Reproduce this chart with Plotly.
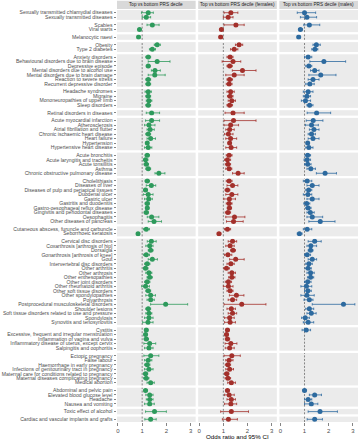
import plotly.graph_objects as go
from plotly.subplots import make_subplots

# ---------------- data ----------------
group_sizes = [2, 2, 1, 2, 7, 4, 1, 7, 5, 10, 2, 19, 5, 7, 4, 1, 1]

labels = [
    "Sexually transmitted chlamydial diseases", "Sexually transmitted diseases",
    "Scabies", "Viral warts",
    "Melanocytic naevi",
    "Obesity", "Type 2 diabetes",
    "Anxiety disorders", "Behavioural disorders due to brain disease", "Depressive episode",
    "Mental disorders due to alcohol use", "Mental disorders due to brain damage",
    "Reaction to severe stress", "Recurrent depressive disorder",
    "Headache syndromes", "Migraine", "Mononeuropathies of upper limb", "Sleep disorders",
    "Retinal disorders in diseases",
    "Acute myocardial infarction", "Atherosclerosis", "Atrial fibrillation and flutter",
    "Chronic ischaemic heart disease", "Heart failure", "Hypertension", "Hypertensive heart disease",
    "Acute bronchitis", "Acute laryngitis and tracheitis", "Acute tonsillitis", "Asthma",
    "Chronic obstructive pulmonary disease",
    "Cholelithiasis", "Diseases of liver", "Diseases of pulp and periapical tissues", "Duodenal ulcer",
    "Gastric ulcer", "Gastritis and duodenitis", "Gastro-oesophageal reflux disease",
    "Gingivitis and periodontal diseases", "Oesophagitis", "Other diseases of pancreas",
    "Cutaneous abscess, furuncle and carbuncle", "Seborrhoeic keratosis",
    "Cervical disc disorders", "Coxarthrosis [arthrosis of hip]", "Dorsalgia",
    "Gonarthrosis [arthrosis of knee]", "Gout", "Intervertebral disc disorders", "Other arthritis",
    "Other arthrosis", "Other enthesopathies", "Other joint disorders", "Other rheumatoid arthritis",
    "Other soft tissue disorders", "Other spondylopathies", "Polyarthrosis",
    "Postprocedural musculoskeletal disorders", "Shoulder lesions",
    "Soft tissue disorders related to use and pressure", "Spondylosis", "Synovitis and tenosynovitis",
    "Cystitis", "Excessive, frequent and irregular menstruation", "Inflammation of vagina and vulva",
    "Inflammatory disease of uterus, except cervix", "Salpingitis and oophoritis",
    "Ectopic pregnancy", "False labour", "Haemorrhage in early pregnancy",
    "Infections of genitourinary tract in pregnancy", "Maternal care for conditions related to pregnancy",
    "Maternal diseases complicating pregnancy", "Medical abortion",
    "Abdominal and pelvic pain", "Elevated blood glucose level", "Headache", "Nausea and vomiting",
    "Toxic effect of alcohol",
    "Cardiac and vascular implants and grafts",
]

or_overall = [1.25, 1.17, 1.42, 0.89, 0.85, 1.62, 1.42,
              1.25, 1.62, 1.25, 1.53, 1.52, 1.25, 1.25,
              1.25, 1.25, 1.28, 1.25, 1.39,
              1.39, 1.28, 1.33, 1.25, 1.35, 1.21, 1.25,
              1.21, 1.14, 1.17, 1.25, 1.69,
              1.21, 1.38, 1.14, 1.25, 1.27, 1.21, 1.21, 1.17, 1.39, 1.49,
              1.17, 0.83,
              1.38, 1.31, 1.35, 1.17, 1.42, 1.21, 1.14, 1.28, 1.31, 1.21, 1.14, 1.25, 1.35, 1.35,
              1.97, 1.25, 1.28, 1.28, 1.24,
              1.17, 1.14, 1.17, 1.31, 1.28,
              1.35, 1.25, 1.21, 1.28, 1.14, 1.17, 1.35,
              1.14, 1.31, 1.31, 1.31, 1.51, 1.35]
lo_overall = [0.97, 1.00, 1.20, 0.84, 0.81, 1.50, 1.30,
              1.15, 1.25, 1.17, 1.38, 1.25, 1.15, 1.15,
              1.12, 1.15, 1.17, 1.15, 1.17,
              1.14, 1.10, 1.20, 1.15, 1.20, 1.17, 1.10,
              1.12, 1.05, 1.08, 1.15, 1.53,
              1.12, 1.17, 1.06, 1.05, 1.10, 1.12, 1.14, 1.08, 1.21, 1.25,
              1.05, 0.78,
              1.21, 1.15, 1.25, 1.05, 1.25, 1.10, 1.05, 1.15, 1.20, 1.10, 0.98, 1.15, 1.15, 1.20,
              1.35, 1.15, 1.15, 1.10, 1.02,
              1.10, 1.08, 1.08, 1.07, 1.10,
              1.07, 1.10, 1.10, 1.10, 1.05, 1.06, 1.20,
              1.07, 1.15, 1.17, 1.10, 1.14, 1.11]
hi_overall = [1.46, 1.35, 1.70, 0.94, 0.90, 1.75, 1.55,
              1.35, 2.15, 1.33, 1.75, 1.95, 1.35, 1.35,
              1.38, 1.35, 1.40, 1.35, 1.72,
              1.72, 1.53, 1.50, 1.35, 1.55, 1.25, 1.40,
              1.30, 1.24, 1.26, 1.35, 1.94,
              1.30, 1.56, 1.22, 1.45, 1.42, 1.30, 1.28, 1.26, 1.69, 1.80,
              1.30, 0.89,
              1.58, 1.45, 1.45, 1.30, 1.63, 1.32, 1.24, 1.40, 1.42, 1.32, 1.30, 1.35, 1.55, 1.50,
              2.88, 1.35, 1.40, 1.45, 1.45,
              1.24, 1.20, 1.26, 1.56, 1.45,
              1.69, 1.40, 1.32, 1.45, 1.23, 1.28, 1.50,
              1.21, 1.45, 1.45, 1.50, 2.00, 1.58]

or_female = [1.31, 1.20, 1.52, 0.92, 0.89, 1.65, 1.45,
             1.28, 1.40, 1.26, 1.79, 1.45, 1.26, 1.24,
             1.30, 1.28, 1.35, 1.26, 1.40,
             1.42, 1.30, 1.26, 1.21, 1.30, 1.26, 1.32,
             1.24, 1.17, 1.19, 1.24, 1.61,
             1.24, 1.38, 1.17, 1.35, 1.25, 1.24, 1.25, 1.19, 1.46, 1.42,
             1.17, 0.82,
             1.38, 1.28, 1.40, 1.19, 1.51, 1.31, 1.13, 1.35, 1.35, 1.21, 1.21, 1.28, 1.54, 1.38,
             1.76, 1.33, 1.38, 1.26, 1.28,
             1.17, 1.13, 1.17, 1.31, 1.26,
             1.35, 1.24, 1.19, 1.26, 1.14, 1.19, 1.33,
             1.17, 1.24, 1.33, 1.31, 1.33, 1.21]
lo_female = [1.03, 1.00, 1.03, 0.86, 0.83, 1.50, 1.30,
             1.15, 0.95, 1.15, 1.37, 1.10, 1.15, 1.12,
             1.15, 1.17, 1.20, 1.15, 1.07,
             1.03, 1.03, 1.10, 1.05, 1.10, 1.20, 1.10,
             1.12, 1.05, 1.08, 1.10, 1.38,
             1.12, 1.15, 1.07, 1.10, 1.02, 1.12, 1.16, 1.08, 1.10, 1.13,
             1.05, 0.75,
             1.20, 1.10, 1.30, 1.05, 1.26, 1.15, 1.02, 1.20, 1.22, 1.08, 1.00, 1.15, 1.25, 1.20,
             1.03, 1.15, 1.20, 1.05, 1.05,
             1.10, 1.07, 1.08, 1.07, 1.08,
             1.03, 1.10, 1.08, 1.10, 1.05, 1.07, 1.18,
             1.10, 1.05, 1.15, 1.05, 0.89, 0.96]
hi_female = [1.60, 1.40, 1.86, 0.98, 0.95, 1.80, 1.60,
             1.40, 1.72, 1.37, 2.35, 1.86, 1.38, 1.36,
             1.45, 1.40, 1.50, 1.38, 1.86,
             2.35, 1.63, 1.45, 1.40, 1.55, 1.32, 1.55,
             1.36, 1.30, 1.30, 1.35, 1.86,
             1.36, 1.60, 1.27, 1.60, 1.50, 1.36, 1.34, 1.30, 1.89, 1.82,
             1.30, 0.90,
             1.55, 1.45, 1.50, 1.35, 1.86, 1.45, 1.25, 1.50, 1.48, 1.34, 1.40, 1.40, 1.85, 1.55,
             2.76, 1.50, 1.55, 1.45, 1.50,
             1.25, 1.20, 1.26, 1.56, 1.45,
             1.70, 1.40, 1.30, 1.42, 1.23, 1.30, 1.50,
             1.25, 1.45, 1.50, 1.55, 2.04, 1.58]

N = None
or_male = [1.00, 1.10, 1.20, 0.83, 0.76, 1.49, 1.43,
           1.15, 1.80, 1.18, 1.42, 1.67, 1.35, 1.22,
           1.15, 1.10, 1.04, 1.21, 1.50,
           1.36, 1.29, 1.39, 1.29, 1.35, 1.13, 1.18,
           1.13, 1.11, 1.13, 1.26, 1.85,
           1.11, 1.32, 1.17, 1.14, 1.32, 1.09, 1.15, 1.24, 1.32, 1.65,
           1.11, 0.79,
           1.42, 1.26, 1.25, 1.11, 1.32, 1.18, 1.15, 1.25, 1.25, 1.13, 1.08, 1.14, 1.10, 1.20,
           2.61, 1.20, 1.28, 1.03, 1.15,
           1.07, N, N, N, N,
           N, N, N, N, N, N, N,
           1.00, 1.42, 1.15, 1.28, 1.64, 1.42]
lo_male = [0.70, 0.83, 0.97, 0.75, 0.70, 1.35, 1.30,
           1.00, 1.22, 1.05, 1.25, 1.18, 1.15, 1.05,
           0.95, 0.95, 0.87, 1.10, 1.11,
           1.07, 1.04, 1.20, 1.15, 1.15, 1.08, 1.05,
           1.02, 0.98, 1.00, 1.10, 1.49,
           0.95, 1.10, 1.05, 0.95, 1.10, 0.97, 1.05, 1.10, 1.10, 1.18,
           0.95, 0.70,
           1.15, 1.10, 1.15, 1.00, 1.15, 1.05, 1.02, 1.10, 1.12, 1.00, 0.85, 1.00, 0.85, 0.98,
           1.32, 1.05, 1.10, 0.88, 0.95,
           0.90, N, N, N, N,
           N, N, N, N, N, N, N,
           0.93, 1.20, 1.00, 1.00, 1.15, 1.11]
hi_male = [1.46, 1.50, 1.63, 0.92, 0.83, 1.65, 1.55,
           1.30, 2.70, 1.30, 1.60, 2.30, 1.60, 1.40,
           1.35, 1.25, 1.25, 1.35, 2.08,
           1.76, 1.57, 1.60, 1.45, 1.60, 1.18, 1.35,
           1.25, 1.25, 1.27, 1.45, 2.32,
           1.30, 1.60, 1.30, 1.30, 1.60, 1.22, 1.27, 1.40, 1.75, 2.26,
           1.30, 0.90,
           1.69, 1.50, 1.35, 1.25, 1.50, 1.32, 1.28, 1.40, 1.38, 1.27, 1.30, 1.28, 1.40, 1.35,
           3.08, 1.38, 1.48, 1.20, 1.38,
           1.25, N, N, N, N,
           N, N, N, N, N, N, N,
           1.07, 1.70, 1.30, 1.55, 2.36, 1.74]

panel_titles = ["Top vs bottom PRS decile", "Top vs bottom PRS decile (females)",
                "Top vs bottom PRS decile (males)"]
x_ticks = [0, 1, 2, 3]
x_title = "Odds ratio and 95% CI"

series = [
    (or_overall, lo_overall, hi_overall, "#2E9A5C"),
    (or_female, lo_female, hi_female, "#A3302B"),
    (or_male, lo_male, hi_male, "#2D6A9F"),
]

# ---------------- figure ----------------
W, H = 360, 440
ML, MR, MT, MB = 117, 2.4, 10.3, 18
FONT = "Liberation Sans, Arial, sans-serif"
n_rows = len(group_sizes)

fig = make_subplots(
    rows=n_rows, cols=3,
    row_heights=[n + 0.2 for n in group_sizes],
    vertical_spacing=0.0056,
    horizontal_spacing=0.0105,
)

start = 0
for r, n in enumerate(group_sizes, start=1):
    cats = labels[start:start + n]
    for c, (vals, lo, hi, col) in enumerate(series, start=1):
        xs, ys, ep, em = [], [], [], []
        for i in range(start, start + n):
            if vals[i] is None:
                continue
            xs.append(vals[i])
            ys.append(labels[i])
            ep.append(hi[i] - vals[i])
            em.append(vals[i] - lo[i])
        sp = fig.get_subplot(r, c)
        xref = sp.xaxis.plotly_name.replace("axis", "")
        yref = sp.yaxis.plotly_name.replace("axis", "")
        fig.add_shape(type="line", x0=1, x1=1, y0=0, y1=1,
                      xref=xref, yref=yref + " domain",
                      line=dict(color="#6b6b6b", width=0.8, dash="2px,1.5px"),
                      layer="below")
        if xs:
            fig.add_trace(go.Scatter(
                x=xs, y=ys, mode="markers",
                marker=dict(color=col, size=5),
                error_x=dict(type="data", symmetric=False, array=ep, arrayminus=em,
                             color=col, thickness=0.8, width=1.2),
                showlegend=False, hoverinfo="skip",
            ), row=r, col=c)
        fig.update_yaxes(
            type="category", categoryarray=cats, categoryorder="array",
            tickmode="array", tickvals=cats, ticktext=cats,
            range=[n - 0.4, -0.6], showgrid=False, zeroline=False,
            showticklabels=(c == 1), ticks="outside" if c == 1 else "",
            ticklen=2.5, tickwidth=0.6, tickcolor="#333333",
            tickfont=dict(size=5.1, color="#4D4D4D", family=FONT),
            row=r, col=c,
        )
        fig.update_xaxes(
            range=[-0.04, 3.21], tickvals=x_ticks, showgrid=False, zeroline=False,
            showticklabels=(r == n_rows), ticks="outside" if r == n_rows else "",
            ticklen=2.5, tickwidth=0.6, tickcolor="#333333",
            tickfont=dict(size=6, color="#4D4D4D", family=FONT),
            row=r, col=c,
        )
    start += n

plot_h = H - MT - MB
for c in range(1, 4):
    sp = fig.get_subplot(1, c)
    d = sp.xaxis.domain
    fig.add_shape(type="rect", xref="paper", yref="paper",
                  x0=d[0], x1=d[1], y0=1 + 1.0 / plot_h, y1=1 + 9.3 / plot_h,
                  fillcolor="#D9D9D9", line=dict(width=0))
    fig.add_annotation(x=(d[0] + d[1]) / 2, y=1 + 5.2 / plot_h, xref="paper", yref="paper",
                       text=panel_titles[c - 1], showarrow=False,
                       font=dict(size=4.7, color="#1A1A1A", family=FONT),
                       xanchor="center", yanchor="middle")

fig.add_annotation(x=0.5, y=-8.6 / plot_h, xref="paper", yref="paper",
                   text=x_title, showarrow=False,
                   font=dict(size=6.2, color="#000000", family=FONT),
                   xanchor="center", yanchor="top")

fig.update_layout(
    width=W, height=H,
    margin=dict(l=ML, r=MR, t=MT, b=MB, pad=0),
    plot_bgcolor="#EBEBEB", paper_bgcolor="#FFFFFF",
    font=dict(family=FONT, color="#4D4D4D"),
    showlegend=False,
)

fig.write_html("out.html",
               config={"displayModeBar": False, "staticPlot": True},
               post_script="document.body.style.margin='0';document.body.style.overflow='hidden';")
